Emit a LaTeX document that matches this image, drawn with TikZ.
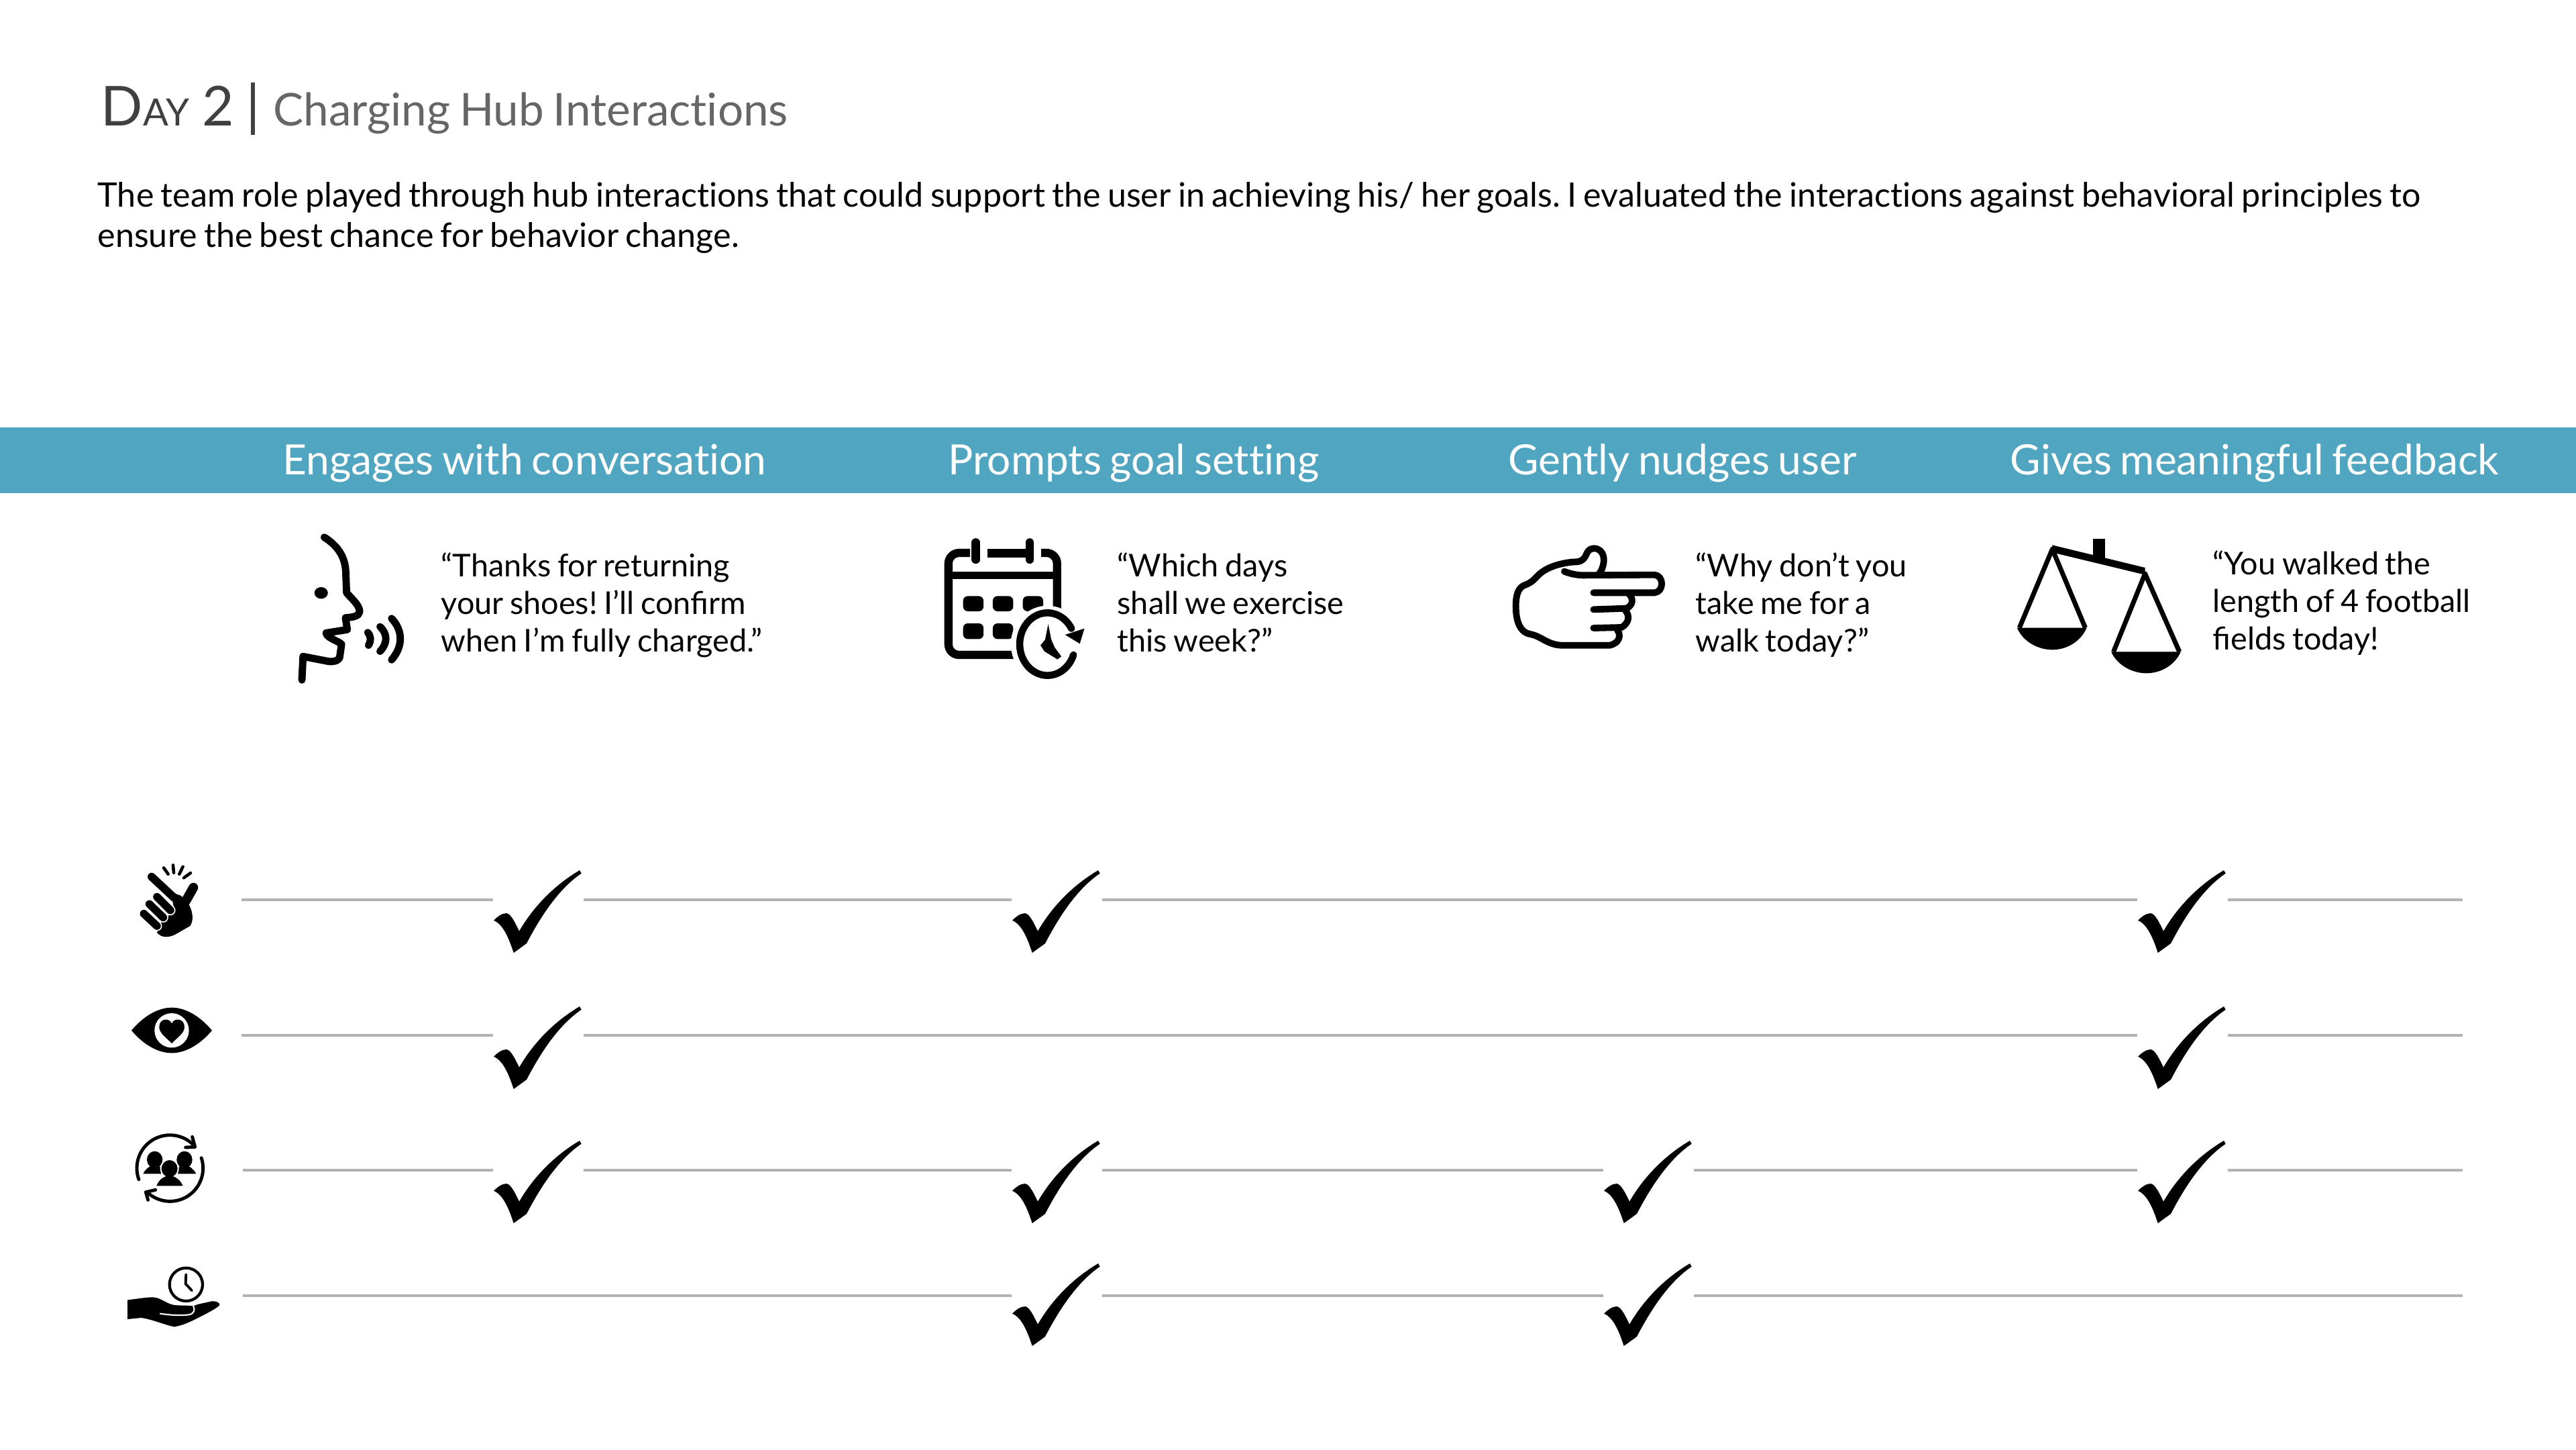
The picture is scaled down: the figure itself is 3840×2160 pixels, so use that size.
\documentclass[tikz,border=0pt]{standalone}
\usepackage{fontspec}
\setmainfont{Lato}[Ligatures=NoCommon,WordSpace=0.8]
\newcommand{\fiL}{{\addfontfeature{Ligatures=Common}fi}}
\definecolor{band}{HTML}{50A5C0}
\definecolor{titledark}{HTML}{404040}
\definecolor{titlegrey}{HTML}{666666}
\definecolor{rulegrey}{HTML}{B2B2B2}
\newcommand{\chk}[2]{\begin{scope}[shift={(#1-35,#2-70)},scale=1/3]
\fill (108,302) .. controls (125,285) and (145,270) .. (165,270) .. controls (185,272) and (205,315) .. (222,350) .. controls (280,250) and (370,150) .. (492,78) -- (500,92) .. controls (400,160) and (320,280) .. (255,405) -- (197,447) .. controls (175,380) and (150,320) .. (108,302) -- cycle;
\end{scope}}
\tikzset{
 rowline/.style={draw=rulegrey,line width=0.95pt},
 headtext/.style={text=white,font=\fontsize{17.7}{21}\selectfont,inner sep=0pt,anchor=base},
 quotetext/.style={font=\fontsize{13.3}{15.93}\selectfont,align=left,inner sep=0pt,anchor=north west},
 icon/.style={line width=3.1pt,line cap=round,line join=round},
}
\begin{document}
\frenchspacing
\begin{tikzpicture}[x=0.01cm,y=-0.01cm]
\useasboundingbox (0,0) rectangle (3840,2160);
% title
\node[inner sep=0pt,anchor=base west,text=titledark,font=\fontsize{23.33}{28}\selectfont] (day) at (150,187) {D{\fontsize{15.93}{18}\selectfont AY}\kern0.8pt{} 2};
\draw[titledark,line width=1.7pt] (377,123) -- (377,201);
\node[inner sep=0pt,anchor=base west,text=titlegrey,font=\fontsize{19.15}{22}\selectfont] (sub) at (407,187) {Charging Hub Interactions};
\node[inner sep=0pt,anchor=north west,align=left,font=\fontsize{14.28}{17.07}\selectfont] (intro) at (145,268) {\rule{0pt}{40\dimexpr 0.2845pt\relax}The team role played through hub interactions that could support the user in achieving his/ her goals. I evaluated the interactions against behavioral principles to\\ensure the best chance for behavior change.};
% band
\fill[band] (0,637) rectangle (3840,735);
\node[headtext] (h1) at (782,707) {Engages with conversation};
\node[headtext] (h2) at (1690,707) {Prompts goal setting};
\node[headtext] (h3) at (2508,707) {Gently nudges user};
\node[headtext] (h4) at (3361,707) {Gives meaningful feedback};
% quotes
\node[quotetext] (q1) at (657,821) {\rule{0pt}{38\dimexpr 0.2845pt\relax}“Thanks for returning\\your shoes! I’ll con\fiL rm\\when I’m fully charged.”};
\node[quotetext] (q2) at (1665,821) {\rule{0pt}{38\dimexpr 0.2845pt\relax}“Which days\\shall we exercise\\this week?”};
\node[quotetext] (q3) at (2527,821) {\rule{0pt}{38\dimexpr 0.2845pt\relax}“Why don’t you\\take me for a\\walk today?”};
\node[quotetext] (q4) at (3298,818) {\rule{0pt}{38\dimexpr 0.2845pt\relax}“You walked the\\length of 4 football\\\fiL elds today!};
% face icon
\begin{scope}[shift={(380,760)},xscale=1/1.742,yscale=1/3]
\draw[icon] (180,122) .. controls (215,160) and (235,210) .. (236,280) -- (238,370) .. controls (250,395) and (272,425) .. (272,455) .. controls (270,475) and (255,480) .. (235,482) -- (240,535) -- (185,550) .. controls (185,570) and (215,585) .. (225,600) -- (220,660) .. controls (215,680) and (195,680) .. (185,675) -- (125,655) -- (122,760);
\fill (172,371) ellipse[x radius=17.5,y radius=26];
\draw[icon] (293,548) .. controls (302,565) and (302,585) .. (295,605);
\draw[icon] (325,522) .. controls (345,555) and (345,595) .. (325,632);
\draw[icon] (355,485) .. controls (385,540) and (385,610) .. (355,670);
\end{scope}
% calendar icon
\begin{scope}[shift={(1380,760)},xscale=1/1.742,yscale=1/3]
\draw[line width=3.5pt,rounded corners=4.5pt] (115,192) -- (59,192) -- (59,648) -- (341,648) -- (341,192) -- (300,192);
\draw[line width=3.7pt] (160,192) -- (260,192);
\draw[line width=3.5pt,line cap=round] (130,145) -- (130,222);
\draw[line width=3.5pt,line cap=round] (270,145) -- (270,222);
\fill (48,277) rectangle (352,310);
\foreach \xx in {97,174,252}{\fill[rounded corners=2pt] (\xx,385) rectangle ++(53,68);}
\foreach \xx in {97,174}{\fill[rounded corners=2pt] (\xx,507) rectangle ++(53,70);}
\fill[white] (316,600) ellipse[x radius=95,y radius=172];
\draw[line width=3pt,line cap=round] plot[domain=20:330,samples=50] ({316+72*cos(\x)},{600+140*sin(\x)});
\fill (412,530) -- (400,598) -- (362,558) -- cycle;
\fill (318,510) -- (326,580) -- (335,615) -- (352,655) -- (342,668) -- (308,632) -- (298,605) -- (310,580) -- cycle;
\end{scope}
% pointing hand
\begin{scope}[shift={(2200,760)},xscale=1/1.4255,yscale=1/3]
\draw[line width=2.8pt,line join=round,line cap=round] (188,275) .. controls (200,285) and (215,292) .. (228,292) -- (380,290) .. controls (400,295) and (400,365) .. (380,370) -- (250,370);
\draw[line width=2.8pt,line join=round,line cap=round] (325,375) .. controls (335,395) and (335,425) .. (320,440) -- (250,445);
\draw[line width=2.8pt,line join=round,line cap=round] (318,450) .. controls (328,475) and (325,505) .. (310,525) -- (250,528);
\draw[line width=2.8pt,line join=round,line cap=round] (300,535) .. controls (310,560) and (305,595) .. (285,605) -- (180,605) .. controls (150,600) and (140,565) .. (115,555) .. controls (90,545) and (85,480) .. (85,430) .. controls (85,380) and (90,345) .. (105,335) .. controls (130,315) and (125,290) .. (155,260) .. controls (175,240) and (200,232) .. (215,232) .. controls (240,225) and (230,175) .. (250,172) .. controls (275,170) and (278,240) .. (262,285);
\end{scope}
% scale icon
\begin{scope}[shift={(2200,760)},xscale=1/1.4255,yscale=1/3]
\fill (1312,130) rectangle (1337,215);
\fill (1225,157) -- (1422,258) -- (1422,290) -- (1225,190) -- cycle;
\draw[line width=2pt,line join=round] (1155,527) -- (1225,175) -- (1295,527);
\draw[line width=2pt,line join=round] (1355,634) -- (1422,285) -- (1495,634);
\fill (1150,527) -- (1298,527) .. controls (1285,590) and (1255,625) .. (1225,625) .. controls (1195,625) and (1163,590) .. (1150,527) -- cycle;
\fill (1350,634) -- (1498,634) .. controls (1485,695) and (1455,730) .. (1425,730) .. controls (1395,730) and (1363,695) .. (1350,634) -- cycle;
\end{scope}
% snapping fingers icon
\begin{scope}[shift={(160,1260)},scale=1/3]
\draw[line width=3.4pt,line cap=round] (198,140) -- (300,235);
\draw[line width=4pt,line cap=round] (385,188) -- (350,250);
\fill (295,212) -- (330,225) -- (365,265) .. controls (385,300) and (385,340) .. (370,360) -- (300,400) .. controls (265,415) and (240,410) .. (222,390) -- (240,345) -- (300,290) -- (290,240) -- cycle;
\foreach \xa/\ya/\xb/\yb in {222/230/282/290,188/262/250/322,163/305/222/360}{
\draw[white,line width=4.3pt,line cap=round] (\xa,\ya) -- (\xb,\yb);
\draw[line width=3.3pt,line cap=round] (\xa,\ya) -- (\xb,\yb);}
\draw[line width=1.3pt,line cap=round] (252,100) -- (272,128) (294,88) -- (297,122) (338,95) -- (322,128) (372,123) -- (342,145);
\end{scope}
% eye icon
\begin{scope}[shift={(160,1260)},scale=1/3]
\fill (108,827) .. controls (160,765) and (225,725) .. (288,725) .. controls (351,725) and (416,765) .. (468,827) .. controls (416,889) and (351,928) .. (288,928) .. controls (225,928) and (160,889) .. (108,827) -- cycle;
\fill[white] (288,827) ellipse[x radius=77,y radius=77];
\fill (288,885) .. controls (265,860) and (232,840) .. (232,812) .. controls (232,770) and (280,770) .. (288,797) .. controls (296,770) and (345,770) .. (345,812) .. controls (345,840) and (311,860) .. (288,885) -- cycle;
\end{scope}
% team icon
\begin{scope}[shift={(160,1660)},scale=1/3]
\draw[line width=1.4pt,line cap=round] plot[domain=160:317,samples=40] ({280+148*cos(\x)},{243+148*sin(\x)});
\draw[line width=1.4pt,line cap=round] plot[domain=-18:134,samples=40] ({280+148*cos(\x)},{243+148*sin(\x)});
\draw[line width=1.4pt,line cap=round,line join=round] (380,103) -- (392,148) -- (350,150);
\draw[line width=1.4pt,line cap=round,line join=round] (215,340) -- (172,350) -- (182,385);
\foreach \cx in {212,345}{
\fill (\cx,205) ellipse[x radius=35,y radius=38];
\fill (\cx-52,268) .. controls (\cx-40,245) and (\cx-25,235) .. (\cx,225) .. controls (\cx+25,235) and (\cx+40,245) .. (\cx+52,268) -- cycle;}
\fill[white] (278,245) ellipse[x radius=42,y radius=44];
\fill[white] (208,330) .. controls (228,285) and (250,272) .. (278,268) .. controls (306,272) and (328,285) .. (349,330) -- cycle;
\fill (278,245) ellipse[x radius=36,y radius=38];
\fill (220,322) .. controls (230,295) and (250,280) .. (278,275) .. controls (306,280) and (326,295) .. (338,322) -- cycle;
\end{scope}
% hand with clock icon
\begin{scope}[shift={(160,1660)},scale=1/3]
\draw[line width=1.2pt] (352,763) ellipse[x radius=74,y radius=74];
\draw[line width=1.1pt,line cap=round,line join=round] (352,718) -- (350,760) -- (378,790);
\fill (90,832) .. controls (130,828) and (170,820) .. (205,820) .. controls (240,822) and (265,850) .. (300,855) .. controls (330,858) and (360,855) .. (385,860) .. controls (400,850) and (440,845) .. (465,838) .. controls (485,835) and (505,845) .. (502,855) .. controls (490,870) and (440,895) .. (400,915) .. controls (370,930) and (340,945) .. (300,952) .. controls (260,945) and (190,915) .. (150,912) -- (90,918) -- cycle;
\draw[white,line width=0.6pt] (235,893) .. controls (280,900) and (330,903) .. (365,898) .. controls (390,893) and (392,875) .. (385,860);
\end{scope}
% rows
\draw[rowline] (360,1341) -- (735,1341) (870,1341) -- (1508,1341) (1643,1341) -- (3186,1341) (3321,1341) -- (3671,1341);
\draw[rowline] (360,1543) -- (735,1543) (870,1543) -- (3186,1543) (3321,1543) -- (3671,1543);
\draw[rowline] (362,1744) -- (735,1744) (870,1744) -- (1508,1744) (1643,1744) -- (2390,1744) (2525,1744) -- (3186,1744) (3321,1744) -- (3671,1744);
\draw[rowline] (362,1931) -- (1508,1931) (1643,1931) -- (2390,1931) (2525,1931) -- (3671,1931);
\chk{735}{1341}\chk{1508}{1341}\chk{3186}{1341}
\chk{735}{1544}\chk{3186}{1544}
\chk{735}{1744}\chk{1508}{1744}\chk{2390}{1744}\chk{3186}{1744}
\chk{1508}{1927}\chk{2390}{1927}
\end{tikzpicture}
\end{document}
